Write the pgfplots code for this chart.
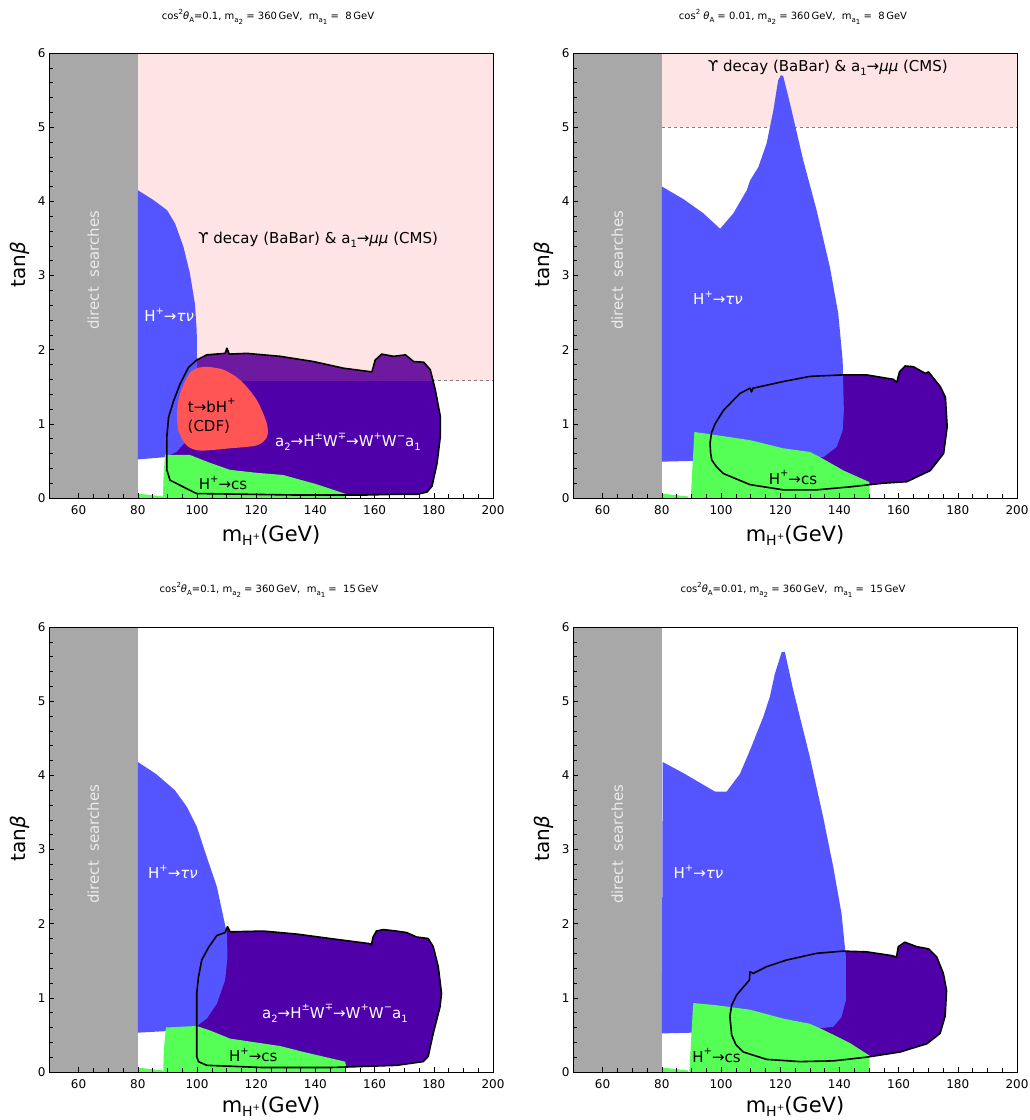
\documentclass[border=0pt]{standalone}
\usepackage{pgfplots}
\pgfplotsset{compat=1.18}
\usepackage{fontspec}
\setmainfont{DejaVu Sans}
\definecolor{dgray}{RGB}{168,168,168}
\definecolor{pinkr}{RGB}{255,228,230}
\definecolor{bluer}{RGB}{85,85,255}
\definecolor{greenr}{RGB}{85,255,85}
\definecolor{purpr}{RGB}{80,0,168}
\definecolor{purpu}{RGB}{110,26,160}
\definecolor{redr}{RGB}{255,85,85}
\definecolor{dsw}{RGB}{235,235,235}
\newcommand{\su}[1]{\raisebox{0.5em}{\fontsize{10}{10}\selectfont #1}}
\newcommand{\sd}[1]{\raisebox{-0.25em}{\fontsize{10}{10}\selectfont #1}}
\newcommand{\tsu}[1]{\raisebox{0.5em}{\fontsize{7}{7}\selectfont #1}}
\newcommand{\tsd}[1]{\raisebox{-0.3em}{\fontsize{7}{7}\selectfont #1}}
\newcommand{\lab}{\fontsize{15}{15}\selectfont}
\newcommand{\ttl}{\fontsize{10}{10}\selectfont}
\newcommand{\dsnode}{\node[rotate=90, text=dsw, font=\fontsize{15}{15}\selectfont] at (axis cs:65,3.07) {direct\ \ searches};}
\pgfplotsset{panel/.style={
  scale only axis, width=444pt, height=445pt, anchor=south west,
  xmin=50, xmax=200, ymin=0, ymax=6,
  xtick={60,80,...,200}, ytick={0,1,...,6},
  minor x tick num=3, minor y tick num=4,
  xtick pos=left, ytick pos=left, tick align=inside,
  major tick length=5pt, minor tick length=3.5pt,
  axis line style={line width=0.8pt, black},
  tick style={black, line width=0.6pt},
  ticklabel style={font=\fontsize{12}{12}\selectfont},
  xticklabel style={yshift=-4pt},
  /pgf/number format/assume math mode=true,
  axis on top,
  xlabel={m\raisebox{-0.2em}{\fontsize{14}{14}\selectfont H\raisebox{0.45em}{\fontsize{9}{9}\selectfont +}}(GeV)},
  ylabel={tan\textit{β}},
  every axis x label/.style={at={(axis description cs:0.5,-0.084)}, anchor=center, inner sep=0pt, font=\fontsize{21}{21}\selectfont},
  every axis y label/.style={at={(axis description cs:-0.066,0.524)}, rotate=90, anchor=center, font=\fontsize{20}{20}\selectfont},
},
bottomrow/.style={every axis x label/.append style={at={(axis description cs:0.5,-0.077)}}}
}
\begin{document}
\begin{tikzpicture}
\path[use as bounding box] (0,0) rectangle (1029pt,1120pt);
% titles
\node[font=\ttl] at (268pt,1103pt) {cos\tsu{2}\textit{θ}\tsd{A}=0.1, m\tsd{a\tsd{2}} = 360\,GeV,\ \ m\tsd{a\tsd{1}} = \ 8\,GeV};
\node[font=\ttl] at (793pt,1103pt) {cos\tsu{2} \textit{θ}\tsd{A} = 0.01, m\tsd{a\tsd{2}} = 360\,GeV,\ \ m\tsd{a\tsd{1}} = \ 8\,GeV};
\node[font=\ttl] at (269pt,530pt) {cos\tsu{2}\textit{θ}\tsd{A}=0.1, m\tsd{a\tsd{2}} = 360\,GeV,\ \ m\tsd{a\tsd{1}} = \ 15\,GeV};
\node[font=\ttl] at (793pt,530pt) {cos\tsu{2}\textit{θ}\tsd{A}=0.01, m\tsd{a\tsd{2}} = 360\,GeV,\ \ m\tsd{a\tsd{1}} = \ 15\,GeV};

% ---------------- top left ----------------
\begin{axis}[panel, at={(49pt,622pt)}]
\addplot[fill=dgray, draw=none] coordinates {(50,0) (80,0) (80,6) (50,6)} -- cycle;
\addplot[fill=pinkr, draw=none] coordinates {(80,1.58) (200,1.58) (200,6) (80,6)} -- cycle;
\addplot[gray, dashed, line width=0.8pt] coordinates {(80,1.58) (200,1.58)};
\addplot[fill=purpr, draw=none] coordinates {(99.9,1.86) (103.3,1.93) (109.5,1.95) (110.1,2.02) (110.9,1.94) (116.8,1.95) (128.1,1.91) (139.3,1.84) (149.5,1.75) (159.1,1.70) (160.2,1.86) (162.4,1.94) (166.4,1.91) (170.4,1.93) (173.2,1.84) (176.6,1.83) (178.8,1.73) (180.5,1.46) (182.2,1.10) (182.2,0.83) (181.1,0.47) (179.4,0.16) (177.7,0.08) (174.3,0.05) (167.6,0.05) (156.4,0.04) (133.8,0.04) (99.9,0.06) (98.8,0.08) (90.9,0.24) (89.8,0.38) (89.8,0.82) (90.4,1.09) (92.1,1.31) (94.3,1.54) (97.1,1.76)} -- cycle;
\addplot[fill=purpu, draw=none] coordinates {(94.8,1.58) (97.1,1.76) (99.9,1.86) (103.3,1.93) (109.5,1.95) (110.1,2.02) (110.9,1.94) (116.8,1.95) (128.1,1.91) (139.3,1.84) (149.5,1.75) (159.1,1.70) (160.2,1.86) (162.4,1.94) (166.4,1.91) (170.4,1.93) (173.2,1.84) (176.6,1.83) (178.8,1.73) (180,1.58)} -- cycle;
\addplot[fill=bluer, draw=none] coordinates {(80,0.52) (80,4.15) (85.2,4.02) (89.9,3.88) (92.6,3.70) (95.4,3.39) (97.6,3.03) (99.3,2.62) (99.9,2.26) (100,1.9) (100.2,1.5) (99.5,1.2) (98,0.95) (96,0.75) (93,0.62) (89,0.55)} -- cycle;
\addplot[fill=greenr, draw=none] coordinates {(88.5,0) (88.7,0.3) (89.2,0.58) (97.6,0.58) (104,0.48) (111.1,0.38) (120,0.34) (129.1,0.31) (140,0.19) (149.9,0.06) (150.2,0.06) (150.2,0)} -- cycle;
\addplot[fill=greenr, draw=none] coordinates {(80,0) (80,0.06) (88.5,0.02) (88.5,0)} -- cycle;
\addplot[fill=redr, draw=none, smooth] coordinates {(103.3,1.77) (108.9,1.73) (114.6,1.59) (120.2,1.32) (123.6,1.00) (123.6,0.82) (120.2,0.71) (111.2,0.67) (101.0,0.64) (96.5,0.71) (93.7,0.91) (93.3,1.18) (94.3,1.41) (97.1,1.66) (99.9,1.75) (103.3,1.77)} -- cycle;
\addplot[black, line width=1.6pt, line join=round] coordinates {(99.9,1.86) (103.3,1.93) (109.5,1.95) (110.1,2.02) (110.9,1.94) (116.8,1.95) (128.1,1.91) (139.3,1.84) (149.5,1.75) (159.1,1.70) (160.2,1.86) (162.4,1.94) (166.4,1.91) (170.4,1.93) (173.2,1.84) (176.6,1.83) (178.8,1.73) (180.5,1.46) (182.2,1.10) (182.2,0.83) (181.1,0.47) (179.4,0.16) (177.7,0.08) (174.3,0.05) (167.6,0.05) (156.4,0.04) (133.8,0.04) (99.9,0.06) (98.8,0.08) (90.9,0.24) (89.8,0.38) (89.8,0.82) (90.4,1.09) (92.1,1.31) (94.3,1.54) (97.1,1.76)} -- cycle;
\dsnode
\node[font=\lab] at (axis cs:140.9,3.48) {ϒ decay (BaBar) \& a\sd{1}→\textit{μμ} (CMS)};
\node[anchor=west, text=white, font=\lab] at (axis cs:81,2.47) {H\su{+}→\textit{τν}};
\node[font=\lab] at (axis cs:105,1.25) {t→bH\su{+}};
\node[font=\lab] at (axis cs:104,0.96) {(CDF)};
\node[text=white, font=\lab] at (axis cs:151,0.76) {a\sd{2}→H\su{±}W\su{∓}→W\su{+}W\su{−}a\sd{1}};
\node[font=\lab] at (axis cs:108.8,0.2) {H\su{+}→cs};
\end{axis}

% ---------------- top right ----------------
\begin{axis}[panel, at={(573pt,622pt)}]
\addplot[fill=dgray, draw=none] coordinates {(50,0) (80,0) (80,6) (50,6)} -- cycle;
\addplot[fill=pinkr, draw=none] coordinates {(80,5) (200,5) (200,6) (80,6)} -- cycle;
\addplot[gray, dashed, line width=0.8pt] coordinates {(80,5) (200,5)};
\addplot[fill=purpr, draw=none] coordinates {(96.3,0.74) (96.5,0.6) (96.9,0.51) (98.5,0.42) (100.8,0.33) (109.8,0.18) (121.0,0.11) (132.3,0.11) (143.6,0.15) (154.9,0.20) (162.8,0.22) (170.7,0.37) (175.2,0.60) (176.4,0.96) (175.8,1.36) (174.1,1.50) (170.1,1.70) (169.0,1.68) (165.0,1.77) (162.2,1.78) (160.3,1.70) (159.4,1.56) (158.2,1.60) (149.2,1.66) (141.4,1.66) (130.1,1.64) (121.0,1.57) (110.8,1.48) (110.3,1.43) (109.8,1.48) (106.4,1.41) (100.8,1.18) (98.0,1.00) (96.8,0.88)} -- cycle;
\addplot[fill=bluer, draw=none] coordinates {(80,0.49) (80,4.20) (87.3,4.03) (94.0,3.84) (99.7,3.63) (104.2,3.84) (108.7,4.15) (109.8,4.28) (112.6,4.46) (115.4,4.78) (117.7,5.23) (119.3,5.63) (120.2,5.70) (121.0,5.69) (123.3,5.32) (127.8,4.55) (132.3,3.88) (136.8,3.11) (139.6,2.49) (141.1,1.86) (141.5,1.18) (141.1,0.91) (139.1,0.69) (134.6,0.55) (120,0.55) (90,0.5)} -- cycle;
\addplot[fill=greenr, draw=none] coordinates {(89.8,0) (91.0,0.89) (96.3,0.86) (109.8,0.78) (121.0,0.67) (130.1,0.62) (133.5,0.55) (141.4,0.37) (149.8,0.22) (150.1,0.22) (150.1,0)} -- cycle;
\addplot[fill=greenr, draw=none] coordinates {(80,0) (80,0.06) (89,0.02) (89,0)} -- cycle;
\addplot[black, line width=1.6pt, line join=round] coordinates {(96.3,0.74) (96.5,0.6) (96.9,0.51) (98.5,0.42) (100.8,0.33) (109.8,0.18) (121.0,0.11) (132.3,0.11) (143.6,0.15) (154.9,0.20) (162.8,0.22) (170.7,0.37) (175.2,0.60) (176.4,0.96) (175.8,1.36) (174.1,1.50) (170.1,1.70) (169.0,1.68) (165.0,1.77) (162.2,1.78) (160.3,1.70) (159.4,1.56) (158.2,1.60) (149.2,1.66) (141.4,1.66) (130.1,1.64) (121.0,1.57) (110.8,1.48) (110.3,1.43) (109.8,1.48) (106.4,1.41) (100.8,1.18) (98.0,1.00) (96.8,0.88)} -- cycle;
\dsnode
\node[font=\lab] at (axis cs:136.1,5.80) {ϒ decay (BaBar) \& a\sd{1}→\textit{μμ} (CMS)};
\node[text=white, font=\lab] at (axis cs:99,2.70) {H\su{+}→\textit{τν}};
\node[font=\lab] at (axis cs:124.3,0.28) {H\su{+}→cs};
\end{axis}

% ---------------- bottom left ----------------
\begin{axis}[panel, bottomrow, at={(49pt,48pt)}]
\addplot[fill=dgray, draw=none] coordinates {(50,0) (80,0) (80,6) (50,6)} -- cycle;
\addplot[fill=purpr, draw=none] coordinates {(99.9,0.21) (100.5,0.14) (103.3,0.09) (122.4,0.06) (144.9,0.06) (167.4,0.09) (176.4,0.14) (178.1,0.21) (179.8,0.52) (182.1,0.88) (182.6,1.06) (181.5,1.42) (179.8,1.69) (178.1,1.80) (174.2,1.82) (170.8,1.88) (167.4,1.90) (162.9,1.92) (160.6,1.90) (159.5,1.82) (158.9,1.71) (158.4,1.73) (144.9,1.80) (133.6,1.86) (122.4,1.90) (111.2,1.89) (110.3,1.96) (109.5,1.88) (106.7,1.84) (103.9,1.68) (101.6,1.51) (100.5,1.28) (99.9,1.06) (99.9,0.65)} -- cycle;
\addplot[fill=bluer, draw=none] coordinates {(80,0.53) (80,4.18) (86.1,4.02) (92.5,3.80) (96.5,3.58) (99.9,3.31) (103.3,2.90) (106.7,2.50) (108.9,2.09) (110.1,1.87) (110.3,1.55) (109.5,1.24) (106.7,0.92) (103.3,0.72) (99.9,0.62) (89,0.55)} -- cycle;
\addplot[fill=greenr, draw=none] coordinates {(88.6,0) (88.8,0.3) (89.5,0.60) (99.9,0.62) (104.4,0.56) (111.2,0.45) (128.1,0.35) (136.0,0.27) (150.0,0.14) (150.3,0.1) (150.3,0)} -- cycle;
\addplot[fill=greenr, draw=none] coordinates {(80,0) (80,0.06) (88.6,0.02) (88.6,0)} -- cycle;
\addplot[black, line width=1.6pt, line join=round] coordinates {(99.9,0.21) (100.5,0.14) (103.3,0.09) (122.4,0.06) (144.9,0.06) (167.4,0.09) (176.4,0.14) (178.1,0.21) (179.8,0.52) (182.1,0.88) (182.6,1.06) (181.5,1.42) (179.8,1.69) (178.1,1.80) (174.2,1.82) (170.8,1.88) (167.4,1.90) (162.9,1.92) (160.6,1.90) (159.5,1.82) (158.9,1.71) (158.4,1.73) (144.9,1.80) (133.6,1.86) (122.4,1.90) (111.2,1.89) (110.3,1.96) (109.5,1.88) (106.7,1.84) (103.9,1.68) (101.6,1.51) (100.5,1.28) (99.9,1.06) (99.9,0.65)} -- cycle;
\dsnode
\node[anchor=west, text=white, font=\lab] at (axis cs:82.3,2.70) {H\su{+}→\textit{τν}};
\node[text=white, font=\lab] at (axis cs:146.6,0.79) {a\sd{2}→H\su{±}W\su{∓}→W\su{+}W\su{−}a\sd{1}};
\node[font=\lab] at (axis cs:119,0.23) {H\su{+}→cs};
\end{axis}

% ---------------- bottom right ----------------
\begin{axis}[panel, bottomrow, at={(573pt,48pt)}]
\addplot[fill=dgray, draw=none] coordinates {(50,0) (80,0) (80,6) (50,6)} -- cycle;
\addplot[fill=purpr, draw=none] coordinates {(103.0,0.75) (103.6,0.50) (105,0.37) (107.5,0.27) (115.4,0.17) (126.7,0.14) (138.0,0.15) (149.2,0.20) (160.5,0.27) (169.5,0.38) (174.0,0.52) (175.7,0.75) (176.2,1.10) (175.1,1.33) (172.9,1.55) (170.1,1.66) (166.1,1.69) (162.1,1.75) (159.9,1.69) (159.3,1.55) (157.6,1.57) (149.2,1.62) (141.3,1.63) (132.3,1.60) (122.2,1.51) (115.4,1.42) (110.9,1.33) (109.8,1.35) (109.6,1.24) (105.3,1.04) (103.6,0.9)} -- cycle;
\addplot[fill=bluer, draw=none] coordinates {(80,0.52) (80.3,4.18) (87.3,4.03) (98.0,3.78) (101.9,3.78) (106.4,4.02) (109.8,4.34) (114.3,4.79) (116.5,5.06) (118.2,5.37) (120.5,5.66) (121.6,5.66) (124.4,5.15) (130.0,4.25) (134.5,3.44) (137.9,2.77) (140.7,2.14) (142.2,1.55) (142.2,0.97) (140.7,0.74) (137.9,0.61) (133.4,0.59) (120,0.6) (90,0.53)} -- cycle;
\addplot[fill=greenr, draw=none] coordinates {(89.3,0) (90.6,0.93) (98.5,0.90) (109.8,0.84) (121.0,0.72) (130.0,0.65) (134.5,0.57) (143.6,0.39) (149.8,0.23) (150.1,0.23) (150.1,0)} -- cycle;
\addplot[fill=greenr, draw=none] coordinates {(80,0) (80,0.06) (89,0.02) (89,0)} -- cycle;
\addplot[black, line width=1.6pt, line join=round] coordinates {(103.0,0.75) (103.6,0.50) (105,0.37) (107.5,0.27) (115.4,0.17) (126.7,0.14) (138.0,0.15) (149.2,0.20) (160.5,0.27) (169.5,0.38) (174.0,0.52) (175.7,0.75) (176.2,1.10) (175.1,1.33) (172.9,1.55) (170.1,1.66) (166.1,1.69) (162.1,1.75) (159.9,1.69) (159.3,1.55) (157.6,1.57) (149.2,1.62) (141.3,1.63) (132.3,1.60) (122.2,1.51) (115.4,1.42) (110.9,1.33) (109.8,1.35) (109.6,1.24) (105.3,1.04) (103.6,0.9)} -- cycle;
\dsnode
\node[anchor=west, text=white, font=\lab] at (axis cs:82.8,2.70) {H\su{+}→\textit{τν}};
\node[font=\lab] at (axis cs:98.5,0.22) {H\su{+}→cs};
\end{axis}
\end{tikzpicture}
\end{document}
